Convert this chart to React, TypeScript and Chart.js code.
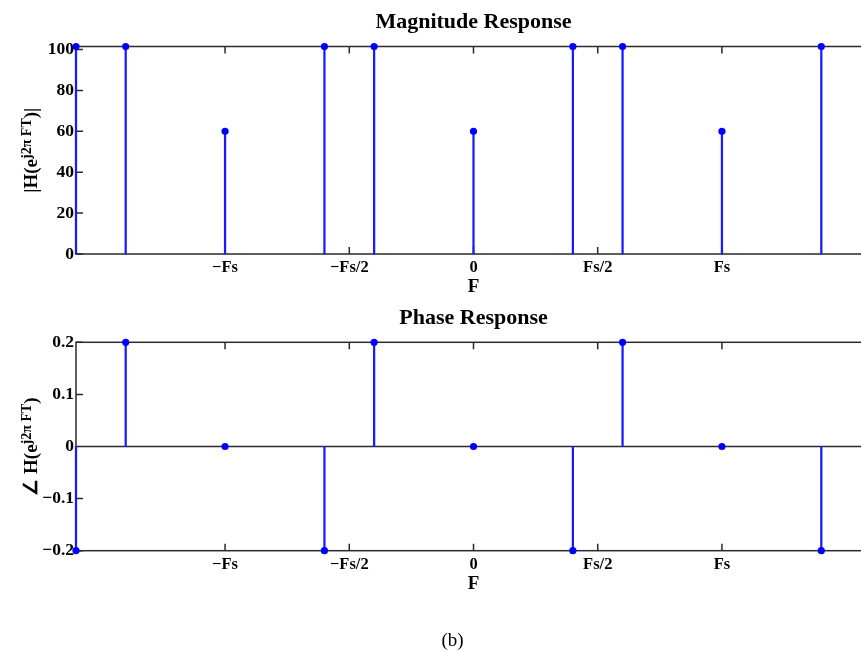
import React, { useEffect, useRef } from 'react';
import { Chart, registerables } from 'chart.js';
Chart.register(...registerables);

const FONT = '"Liberation Serif", "Times New Roman", serif';

// Frequencies in units of Fs
const freqs = [-1.6, -1.4, -1.0, -0.6, -0.4, 0, 0.4, 0.6, 1.0, 1.4];
const magnitude = [101.5, 101.5, 60, 101.5, 101.5, 60, 101.5, 101.5, 60, 101.5];
const phase = [-0.2, 0.2, 0, -0.2, 0.2, 0, -0.2, 0.2, 0, -0.2];

const xTickValues = [-1, -0.5, 0, 0.5, 1];
const xTickLabels = ['\u2212Fs', '\u2212Fs/2', '0', 'Fs/2', 'Fs'];
const magTickValues = [0, 20, 40, 60, 80, 100];
const magTickLabels = ['0', '20', '40', '60', '80', '100'];
const phaseTickValues = [-0.2, -0.1, 0, 0.1, 0.2];
const phaseTickLabels = ['\u22120.2', '\u22120.1', '0', '0.1', '0.2'];

type Part = { t: string; sup?: boolean };

function framePlugin(opts: {
  title: string;
  ylabel: Part[];
  zeroLine: boolean;
  footer?: { text: string; x: number; y: number };
}) {
  return {
    id: 'frame',
    beforeDatasetsDraw(chart: any) {
      const { ctx, chartArea: a, scales } = chart;
      ctx.save();
      ctx.strokeStyle = '#2a2a2a';
      ctx.lineWidth = 1.5;
      ctx.strokeRect(a.left, a.top, a.right - a.left, a.bottom - a.top);
      ctx.beginPath();
      const tl = 7;
      for (const v of xTickValues) {
        const px = scales.x.getPixelForValue(v);
        ctx.moveTo(px, a.bottom);
        ctx.lineTo(px, a.bottom - tl);
        ctx.moveTo(px, a.top);
        ctx.lineTo(px, a.top + tl);
      }
      for (const t of scales.y.ticks) {
        const py = scales.y.getPixelForValue(t.value);
        ctx.moveTo(a.left, py);
        ctx.lineTo(a.left + tl, py);
        ctx.moveTo(a.right, py);
        ctx.lineTo(a.right - tl, py);
      }
      if (opts.zeroLine) {
        const y0 = scales.y.getPixelForValue(0);
        ctx.moveTo(a.left, y0);
        ctx.lineTo(a.right, y0);
      }
      ctx.stroke();
      ctx.restore();
    },
    afterDraw(chart: any) {
      const { ctx, chartArea: a, scales } = chart;
      const cx = scales.x.getPixelForValue(0);
      ctx.save();
      ctx.fillStyle = '#000';
      ctx.textAlign = 'center';
      ctx.textBaseline = 'middle';
      ctx.font = `bold 22px ${FONT}`;
      ctx.fillText(opts.title, cx, a.top - 24);
      ctx.font = `bold 19px ${FONT}`;
      ctx.fillText('F', cx, a.bottom + 33);
      // y label
      const mainFont = `bold 19px ${FONT}`;
      const supFont = `bold 14px ${FONT}`;
      let total = 0;
      const widths = opts.ylabel.map((p) => {
        ctx.font = p.sup ? supFont : mainFont;
        const w = ctx.measureText(p.t).width;
        total += w;
        return w;
      });
      ctx.translate(37, (a.top + a.bottom) / 2);
      ctx.rotate(-Math.PI / 2);
      ctx.textAlign = 'left';
      ctx.textBaseline = 'alphabetic';
      let xx = -total / 2;
      opts.ylabel.forEach((p, i) => {
        ctx.font = p.sup ? supFont : mainFont;
        ctx.fillText(p.t, xx, p.sup ? -6 : 0);
        xx += widths[i];
      });
      ctx.restore();
      if (opts.footer) {
        ctx.save();
        ctx.fillStyle = '#000';
        ctx.textAlign = 'center';
        ctx.textBaseline = 'middle';
        ctx.font = `19px ${FONT}`;
        ctx.fillText(opts.footer.text, opts.footer.x, opts.footer.y);
        ctx.restore();
      }
    },
  };
}

function makeConfig(
  values: number[],
  yMin: number,
  yMax: number,
  yTicks: number[],
  yLabels: string[],
  padTop: number,
  padBottom: number,
  plugin: any
) {
  const pts = freqs.map((f, i) => ({ x: f, y: values[i] }));
  const xTickFont = { family: FONT, weight: 'bold' as const, size: 16.5 };
  const yTickFont = { family: FONT, weight: 'bold' as const, size: 17.5 };
  return {
    type: 'bar' as const,
    data: {
      datasets: [
        {
          type: 'scatter' as const,
          data: pts,
          backgroundColor: '#0000ff',
          borderWidth: 0,
          pointRadius: 3.6,
          showLine: false,
          clip: false as any,
          order: 0,
        },
        {
          type: 'bar' as const,
          data: pts,
          backgroundColor: '#1a1aff',
          borderWidth: 0,
          barThickness: 1.6,
          clip: false as any,
          order: 1,
        },
      ],
    },
    options: {
      responsive: false,
      animation: false as const,
      devicePixelRatio: 1,
      layout: { padding: { left: 0, right: 29, top: padTop, bottom: padBottom } },
      plugins: { legend: { display: false }, tooltip: { enabled: false }, title: { display: false } },
      scales: {
        x: {
          type: 'linear' as const,
          min: -1.6,
          max: 1.6,
          offset: false,
          afterBuildTicks: (s: any) => {
            s.ticks = xTickValues.map((v) => ({ value: v }));
          },
          afterFit: (s: any) => {
            s.height = 46;
          },
          ticks: {
            callback: (_v: any, i: number) => xTickLabels[i],
            font: xTickFont,
            color: '#000',
            padding: 4,
            maxRotation: 0,
            autoSkip: false,
          },
          grid: { display: false, drawTicks: false },
          border: { display: false },
        },
        y: {
          type: 'linear' as const,
          min: yMin,
          max: yMax,
          afterBuildTicks: (s: any) => {
            s.ticks = yTicks.map((v) => ({ value: v }));
          },
          afterFit: (s: any) => {
            s.width = 76;
          },
          ticks: {
            callback: (_v: any, i: number) => yLabels[i],
            font: yTickFont,
            color: '#000',
            padding: 2,
            autoSkip: false,
          },
          grid: { display: false, drawTicks: false },
          border: { display: false },
        },
      },
    },
    plugins: [plugin],
  };
}

export default function App() {
  const ref1 = useRef<HTMLCanvasElement>(null);
  const ref2 = useRef<HTMLCanvasElement>(null);

  useEffect(() => {
    const c1 = new Chart(
      ref1.current as HTMLCanvasElement,
      makeConfig(
        magnitude,
        0,
        101.5,
        magTickValues,
        magTickLabels,
        46.5,
        0,
        framePlugin({
          title: 'Magnitude Response',
          ylabel: [{ t: '|H(e' }, { t: 'j2\u03c0 FT', sup: true }, { t: ')|' }],
          zeroLine: false,
        })
      ) as any
    );
    const c2 = new Chart(
      ref2.current as HTMLCanvasElement,
      makeConfig(
        phase,
        -0.2,
        0.2,
        phaseTickValues,
        phaseTickLabels,
        42.3,
        55.3,
        framePlugin({
          title: 'Phase Response',
          ylabel: [{ t: '\u2220 H(e' }, { t: 'j2\u03c0 FT', sup: true }, { t: ')' }],
          zeroLine: true,
          footer: { text: '(b)', x: 452.5, y: 341 },
        })
      ) as any
    );
    return () => {
      c1.destroy();
      c2.destroy();
    };
  }, []);

  return (
    <div
      style={{
        position: 'fixed',
        left: 0,
        top: 0,
        width: 861,
        height: 652,
        overflow: 'hidden',
        background: '#fff',
      }}
    >
      <canvas ref={ref1} width={900} height={300} style={{ position: 'absolute', left: 0, top: 0 }} />
      <canvas ref={ref2} width={900} height={352} style={{ position: 'absolute', left: 0, top: 300 }} />
    </div>
  );
}
